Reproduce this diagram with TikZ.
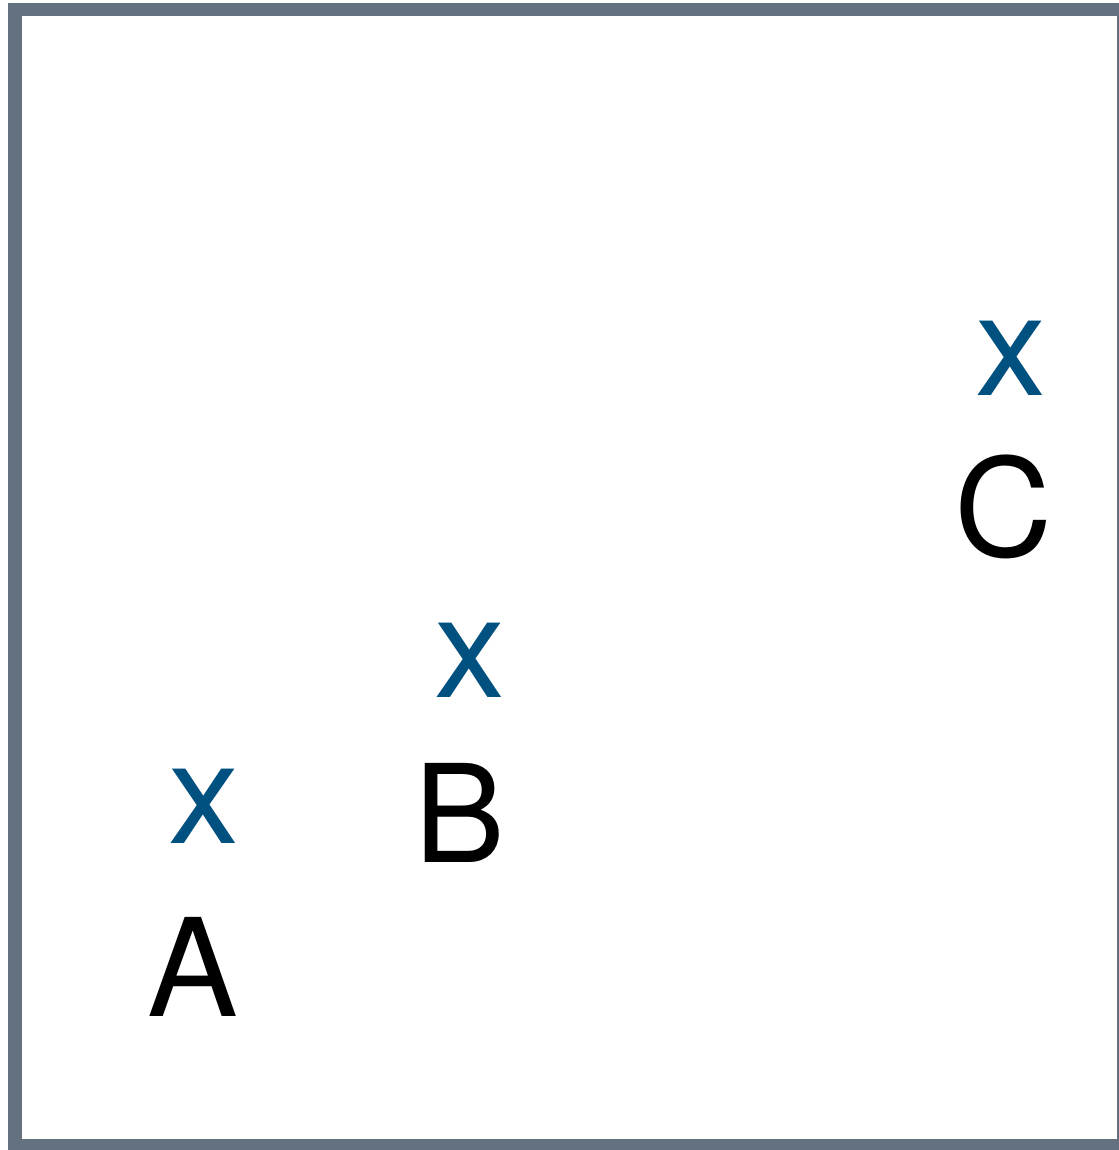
\documentclass[tikz,border=0pt]{standalone}
\usepackage{fontspec}
\setmainfont{TeX Gyre Heros}
\definecolor{framegray}{RGB}{100,113,126}
\definecolor{markblue}{RGB}{0,80,128}
\begin{document}
\begin{tikzpicture}[x=1pt,y=-1pt,
  xmark/.style={anchor=base,inner sep=0pt,text=markblue,font=\fontsize{142}{170}\selectfont},
  letter/.style={anchor=base,inner sep=0pt,text=black,font=\fontsize{136}{163}\selectfont}]
\useasboundingbox (0,0) rectangle (1118,1150);
\fill[white] (0,0) rectangle (1118,1150);
\draw[framegray,line width=13.2pt] (15,9.7) rectangle (1124,1145.6);
\node[xmark] (xa) at (203.5,843) {x};
\node[letter] (la) at (192.5,1016) {A};
\node[xmark] (xb) at (469.5,697) {x};
\node[letter] (lb) at (460,862) {B};
\node[xmark] (xc) at (1010.5,395) {x};
\node[letter] (lc) at (1003.5,556) {C};
\end{tikzpicture}
\end{document}
